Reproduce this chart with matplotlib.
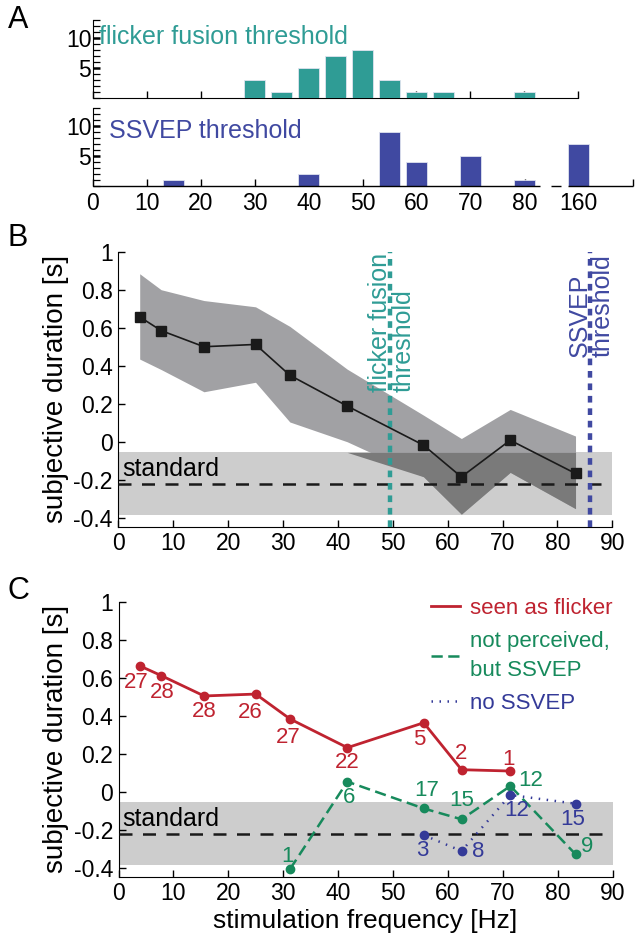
import numpy as np
import matplotlib
matplotlib.use('Agg')
import matplotlib.pyplot as plt
from matplotlib.lines import Line2D
from matplotlib.ticker import MultipleLocator, FixedLocator

plt.rcParams['font.family'] = ['Liberation Sans', 'DejaVu Sans']
plt.rcParams['axes.unicode_minus'] = False

# ---------------- data ----------------
# Panel A: histograms of thresholds (x position 90 carries the "160" label)
flicker_bins = [30, 35, 40, 45, 50, 55, 60, 65, 80]
flicker_counts = [3, 1, 5, 7, 8, 3, 1, 1, 1]
ssvep_bins = [15, 40, 55, 60, 70, 80, 90]
ssvep_counts = [1, 2, 9, 4, 5, 1, 7]
hist_tick_pos = [0, 10, 20, 30, 40, 50, 60, 70, 80, 90, 100]
hist_tick_labels = ['0', '10', '20', '30', '40', '50', '60', '70', '80', '160', '']

# Panel B: mean subjective duration with spread
freqs = [3.9, 7.8, 15.6, 25.0, 31.25, 41.7, 55.6, 62.5, 71.4, 83.3]
mean_dur = [0.657, 0.585, 0.500, 0.512, 0.350, 0.188, -0.018, -0.185, 0.008, -0.167]
upper_dur = [0.884, 0.800, 0.743, 0.710, 0.607, 0.382, 0.140, 0.017, 0.170, 0.030]
lower_dur = [0.435, 0.380, 0.263, 0.313, 0.104, 0.000, -0.184, -0.381, -0.161, -0.352]
flicker_threshold = 49.5
ssvep_threshold = 86.0
standard_mean = -0.222
standard_low = -0.387
standard_high = -0.056

# Panel C: split by perception / SSVEP
seen_freqs = [3.9, 7.8, 15.6, 25.0, 31.25, 41.7, 55.6, 62.5, 71.4]
seen_dur = [0.662, 0.611, 0.504, 0.514, 0.383, 0.232, 0.363, 0.116, 0.109]
seen_n = ['27', '28', '28', '26', '27', '22', '5', '2', '1']
notperc_freqs = [31.25, 41.7, 55.6, 62.5, 71.4, 83.3]
notperc_dur = [-0.407, 0.053, -0.088, -0.145, 0.030, -0.330]
notperc_n = ['1', '6', '17', '15', '12', '9']
nossvep_freqs = [55.6, 62.5, 71.4, 83.3]
nossvep_dur = [-0.228, -0.312, -0.017, -0.063]
nossvep_n = ['3', '8', '12', '15']

# label offsets (pixels) for the counts
seen_off = [(-4, -17), (1, -17), (0, -16), (-5, -18), (-2, -19), (0, -15), (-4, -17), (0, 16), (-2, 12)]
notperc_off = [(-3, 13), (2, -16), (3, 18), (0, 19), (20, 6), (11, 8)]
nossvep_off = [(-1, -15), (17, 0), (6, -16), (-3, -16)]

# ---------------- styles ----------------
TEAL = '#2f9c95'
BLUE = '#4049a1'
RED = '#bf2330'
GREEN = '#178a5c'
DBLUE = '#343a98'
FS_TICK = 16.5
FS_TEXT = 18

fig = plt.figure(figsize=(6.38, 9.48), dpi=100)
W, H = 638.0, 948.0


def ax_px(l, t, r, b):
    return fig.add_axes([l / W, 1 - b / H, (r - l) / W, (b - t) / H])


# ---------- Panel A ----------
axA1 = ax_px(92.7, 20.3, 578.3, 98.3)
axA2 = ax_px(92.7, 108.0, 632.7, 186.0)
for ax, bins, counts, col, label, tx, ty in [
        (axA1, flicker_bins, flicker_counts, TEAL, 'flicker fusion threshold', 0.012, 0.70),
        (axA2, ssvep_bins, ssvep_counts, BLUE, 'SSVEP threshold', 0.03, 0.62)]:
    ax.bar(bins, counts, width=3.9, color=col, edgecolor='#dfe3ef', linewidth=0.6, zorder=3)
    ax.set_ylim(0, 13)
    ax.spines['top'].set_visible(False)
    ax.spines['right'].set_visible(False)
    ax.yaxis.set_major_locator(FixedLocator([5, 10]))
    ax.yaxis.set_minor_locator(MultipleLocator(1))
    ax.tick_params(axis='y', which='major', direction='in', length=5, width=1.8,
                   labelsize=FS_TICK, pad=1)
    ax.tick_params(axis='y', which='minor', direction='in', length=5, width=0.9)
    ax.tick_params(axis='x', which='major', direction='in', length=5, width=1.0,
                   labelsize=FS_TICK, pad=4)
    ax.text(tx, ty, label, transform=ax.transAxes, color=col, fontsize=FS_TEXT,
            ha='left', va='baseline')

axA1.set_xlim(0, 90)
axA1.set_xticks(hist_tick_pos[:-1])
axA1.set_xticklabels([])

axA2.set_xlim(0, 100)
axA2.set_xticks(hist_tick_pos)
axA2.set_xticklabels(hist_tick_labels)
axA2.spines['bottom'].set_visible(False)
for seg in [(0, 82.8), (84.8, 86.7), (88.0, 100.0)]:
    axA2.plot(seg, (0, 0), color='black', lw=1.0, clip_on=False, zorder=3,
              solid_capstyle='butt')


# ---------- Panels B & C common ----------
def style_main(ax):
    ax.set_xlim(0, 90)
    ax.set_ylim(-0.447, 1.0)
    ax.spines['top'].set_visible(False)
    ax.spines['right'].set_visible(False)
    ax.set_xticks(np.arange(0, 91, 10))
    ax.set_yticks([-0.4, -0.2, 0, 0.2, 0.4, 0.6, 0.8, 1.0])
    ax.set_yticklabels(['-0.4', '-0.2', '0', '0.2', '0.4', '0.6', '0.8', '1'])
    ax.tick_params(direction='in', length=5, width=1.0, labelsize=FS_TICK, pad=4)
    ax.set_ylabel('subjective duration [s]', fontsize=20, labelpad=3)
    ax.axhspan(standard_low, standard_high, color='#cdcdcd', lw=0, zorder=0)
    ax.plot([0, 88], [standard_mean, standard_mean], color='#1a1a1a', lw=1.8,
            dashes=(5.2, 4.2), zorder=3)
    ax.text(0.7, -0.182, 'standard', fontsize=FS_TEXT, ha='left', va='baseline', zorder=4)


axB = ax_px(118.3, 251.7, 612.3, 526.7)
style_main(axB)
fx = np.array(freqs)
lo = np.array(lower_dur)
hi = np.array(upper_dur)
axB.fill_between(fx, lo, hi, color='#a1a1a4', lw=0, zorder=1)
axB.fill_between(fx, np.clip(lo, standard_low, standard_high),
                 np.clip(hi, standard_low, standard_high),
                 color='#7a7a7a', lw=0, zorder=1.5)
axB.plot(freqs, mean_dur, color='#1a1a1a', lw=1.2, marker='s', ms=7.5,
         mfc='#1a1a1a', mec='#1a1a1a', zorder=5)
axB.axvline(flicker_threshold, color=TEAL, lw=3.2, dashes=(1.5, 1.3), zorder=4)
axB.axvline(ssvep_threshold, color=BLUE, lw=3.2, dashes=(1.5, 1.3), zorder=4)
axB.text(flicker_threshold + 0.3, 0.262, 'flicker fusion\nthreshold', rotation=90,
         color=TEAL, fontsize=FS_TEXT, ha='center', va='bottom',
         multialignment='left', linespacing=0.95, zorder=4)
axB.text(ssvep_threshold + 0.1, 0.447, 'SSVEP\nthreshold', rotation=90,
         color=BLUE, fontsize=FS_TEXT, ha='center', va='bottom',
         multialignment='left', linespacing=0.95, zorder=4)

axC = ax_px(118.5, 601.7, 612.5, 876.7)
style_main(axC)
axC.set_xlabel('stimulation frequency [Hz]', fontsize=19, labelpad=3)
axC.plot(seen_freqs, seen_dur, color=RED, lw=2.0, marker='o', ms=6, zorder=5)
axC.plot(notperc_freqs, notperc_dur, color=GREEN, lw=1.8, dashes=(4.5, 2.2),
         marker='o', ms=6, zorder=5)
axC.plot(nossvep_freqs, nossvep_dur, color=DBLUE, lw=1.8, dashes=(0.6, 2.6),
         marker='o', ms=6, zorder=5)
for xs, ys, ns, offs, col in [(seen_freqs, seen_dur, seen_n, seen_off, RED),
                              (notperc_freqs, notperc_dur, notperc_n, notperc_off, GREEN),
                              (nossvep_freqs, nossvep_dur, nossvep_n, nossvep_off, DBLUE)]:
    for x, y, n, (dx, dy) in zip(xs, ys, ns, offs):
        axC.annotate(n, (x, y), xytext=(dx, dy), textcoords='offset pixels',
                     color=col, fontsize=16, ha='center', va='center', zorder=6)

handles = [Line2D([], [], color=RED, lw=2.0),
           Line2D([], [], color=GREEN, lw=1.8, dashes=(4.5, 2.2)),
           Line2D([], [], color=DBLUE, lw=1.8, dashes=(0.6, 2.6))]
leg = axC.legend(handles, ['seen as flicker', 'not perceived,\nbut SSVEP', 'no SSVEP'],
                 loc='upper left', bbox_to_anchor=(0.615, 1.045), frameon=False,
                 fontsize=16, handlelength=1.3, handletextpad=0.45, labelspacing=0.55,
                 labelcolor='linecolor', borderaxespad=0)
leg.get_texts()[1].set_linespacing(1.45)

# panel letters
fig.text(18 / W, 1 - 20 / H, 'A', fontsize=22, ha='center', va='center')
fig.text(18 / W, 1 - 238 / H, 'B', fontsize=22, ha='center', va='center')
fig.text(18 / W, 1 - 591 / H, 'C', fontsize=22, ha='center', va='center')

fig.savefig('out.png', dpi=100)
